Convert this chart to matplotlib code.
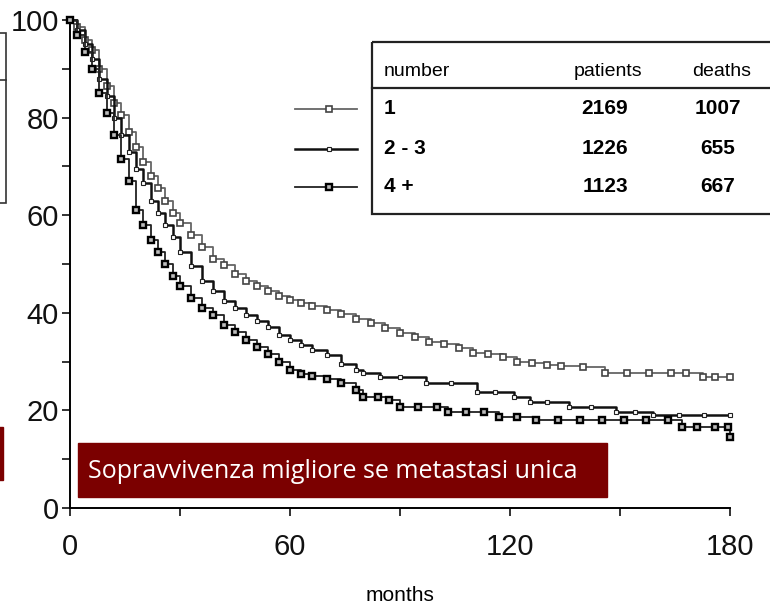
import matplotlib
matplotlib.use("Agg")
import matplotlib.pyplot as plt
from matplotlib.patches import Rectangle
from matplotlib.ticker import MultipleLocator

# survival curves (months, % alive)
t_one = [0, 2, 4, 6, 8, 10, 12, 14, 16, 18, 20, 22, 24, 26, 28, 30, 33, 36, 39, 42,
         45, 48, 51, 54, 57, 60, 63, 66, 70, 74, 78, 82, 86, 90, 94, 98, 102, 106,
         110, 114, 118, 122, 126, 130, 134, 140, 146, 152, 158, 164, 168, 172.6, 176, 180]
s_one = [100, 98.5, 96, 93.8, 90, 86.5, 83, 80.5, 77, 74, 71, 68, 65.5, 63, 60.5, 58.4,
         56, 53.5, 51, 49.7, 48, 46.5, 45.5, 44.5, 43.5, 42.6, 42, 41.3, 40.6, 39.8,
         38.8, 38, 36.8, 35.9, 35, 34, 33.6, 32.8, 31.8, 31.5, 31, 30, 29.7, 29.3, 29,
         28.8, 27.7, 27.7, 27.7, 27.7, 27.7, 26.8, 26.8, 26.8]

t_two = [0, 2, 4, 6, 8, 10, 12, 14, 16, 18, 20, 22, 24, 26, 28, 30, 33, 36, 39, 42,
         45, 48, 51, 54, 57, 60, 63, 66, 70, 74, 78, 80, 84.5, 90, 97, 104, 111, 116,
         121, 125.5, 130, 136, 142, 149, 154, 159, 166, 173, 180]
s_two = [100, 98, 95, 92, 88, 84.5, 80, 76.5, 73, 69.5, 66.5, 63, 60.5, 58, 55.5, 52.5,
         49.5, 46.5, 44.5, 42.5, 41, 39.5, 38.3, 37, 35.5, 34.4, 33.3, 32.3, 31.4, 29.5,
         28.3, 27.7, 26.8, 26.8, 25.6, 25.6, 23.8, 23.8, 22.7, 21.7, 21.7, 20.7, 20.7,
         19.7, 19.7, 19.0, 19.0, 19.0, 19.0]

t_four = [0, 2, 4, 6, 8, 10, 12, 14, 16, 18, 20, 22, 24, 26, 28, 30, 33, 36, 39, 42,
          45, 48, 51, 54, 57, 60, 63, 66, 70, 74, 78, 80, 84, 87, 90, 95, 100, 103, 108,
          113, 117, 122, 127, 133, 139, 145, 151, 157, 163, 167, 171, 176, 179.5, 180]
s_four = [100, 97, 93.5, 90, 85, 81, 76.5, 71.5, 67, 61, 58, 55, 52.5, 50, 47.5, 45.5,
          43, 41, 39.5, 37.5, 36, 34.5, 33, 31.5, 30, 28.3, 27.5, 27, 26.5, 25.6, 24.2,
          22.7, 22.7, 22.1, 20.7, 20.7, 20.7, 19.7, 19.7, 19.7, 18.6, 18.6, 18.0, 18.0,
          18.0, 18.0, 18.0, 18.0, 18.0, 16.6, 16.6, 16.6, 16.6, 14.5]

groups = ["1", "2 - 3", "4 +"]
patients = [2169, 1226, 1123]
deaths = [1007, 655, 667]

plt.rcParams["font.family"] = ["Liberation Sans Narrow", "Liberation Sans", "DejaVu Sans"]

styles = [
    dict(color="#666666", lw=1.3, marker="s", ms=5, mfc="white", mec="#444444", mew=1.2),
    dict(color="#111111", lw=1.8, marker="s", ms=2.5, mfc="white", mec="#222222", mew=0.8),
    dict(color="#222222", lw=1.3, marker="s", ms=5, mfc="#bbbbbb", mec="black", mew=1.7),
]

fig = plt.figure(figsize=(7.7, 6.13), dpi=100)
ax = fig.add_axes([70 / 770, 1 - 508 / 613, 660 / 770, 488 / 613])

curves = [(t_one, s_one), (t_two, s_two), (t_four, s_four)]
for (t, s), st in zip(curves, styles):
    ax.plot(t, s, drawstyle="steps-post", clip_on=False, zorder=3, **st)

ax.set_xlim(0, 180)
ax.set_ylim(0, 100)
ax.xaxis.set_major_locator(MultipleLocator(60))
ax.xaxis.set_minor_locator(MultipleLocator(30))
ax.yaxis.set_major_locator(MultipleLocator(20))
ax.yaxis.set_minor_locator(MultipleLocator(10))
ax.tick_params(which="both", direction="out", length=6, width=1.2, labelsize=21, colors="#111111")
ax.tick_params(axis="x", pad=12)
ax.tick_params(axis="y", pad=2)
for side in ["top", "right"]:
    ax.spines[side].set_visible(False)
for side in ["left", "bottom"]:
    ax.spines[side].set_linewidth(1.4)
ax.set_xlabel("months", fontsize=15, labelpad=18)

# overlay in pixel coordinates for the legend table and slide decorations
ov = fig.add_axes([0, 0, 1, 1])
ov.set_xlim(0, 770)
ov.set_ylim(613, 0)
ov.axis("off")
ov.patch.set_alpha(0)

ov.add_patch(Rectangle((372, 42), 420, 172, fill=False, lw=1.6, ec="#222222", clip_on=False))
ov.plot([372, 770], [88, 88], color="#222222", lw=1.6)
ov.text(384, 72, "number", fontsize=14, va="center", ha="left")
ov.text(608, 72, "patients", fontsize=14, va="center", ha="center")
ov.text(722, 72, "deaths", fontsize=14, va="center", ha="center")
rows_y = [109, 149, 187]
for y, g, p, d, st in zip(rows_y, groups, patients, deaths, styles):
    ov.text(384, y, g, fontsize=15, fontweight="bold", va="center", ha="left")
    ov.text(605, y, str(p), fontsize=15, fontweight="bold", va="center", ha="center")
    ov.text(718, y, str(d), fontsize=15, fontweight="bold", va="center", ha="center")
    ov.plot([295, 357], [y, y], **{k: v for k, v in st.items() if k != "marker"})
    ov.plot([329], [y], linestyle="none", **{k: v for k, v in st.items() if k not in ("color", "lw")})

# red caption box
ov.add_patch(Rectangle((78, 443), 529, 54, color="#7b0000", zorder=5))
ov.text(88, 471, "Sopravvivenza migliore se metastasi unica", color="white",
        fontsize=18, family=["Open Sans", "DejaVu Sans"], va="center", ha="left", zorder=6)

# cropped slide elements on the left edge
ov.add_patch(Rectangle((-20, 33), 26, 170, fill=False, lw=1.2, ec="#333333", clip_on=False))
ov.plot([0, 6], [80, 80], color="#333333", lw=1.2)
ov.add_patch(Rectangle((-5, 427), 8, 53, color="#7b0000"))

fig.savefig("out.png", dpi=100)
